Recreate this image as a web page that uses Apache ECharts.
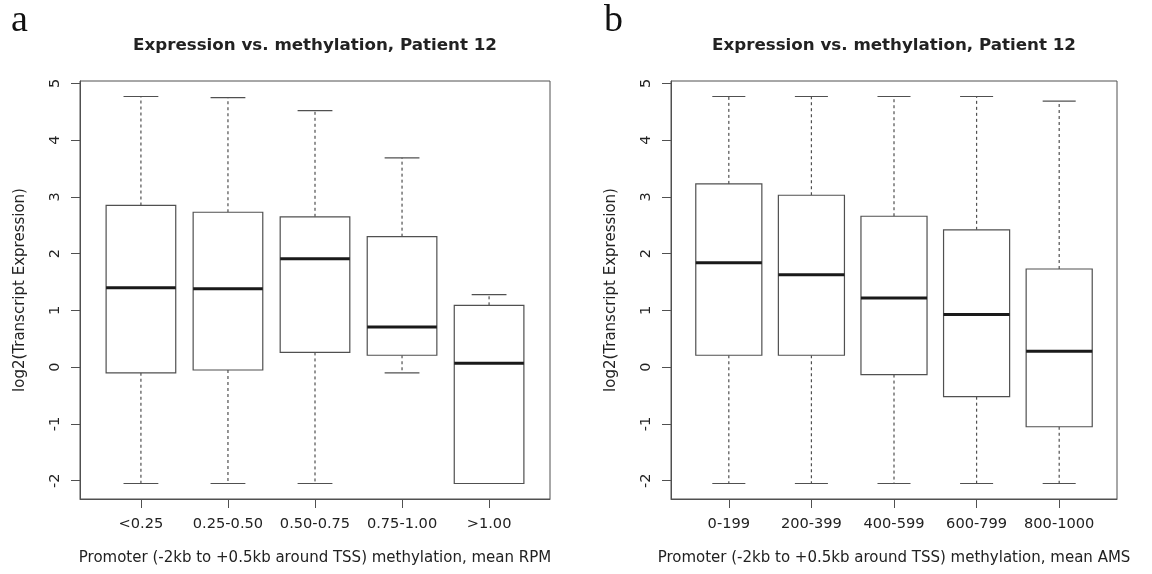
<!DOCTYPE html>
<html>
<head>
<meta charset="utf-8">
<script src="https://cdn.jsdelivr.net/npm/echarts@6/dist/echarts.min.js"></script>
<style>html,body{margin:0;padding:0;background:#fff;}#chart{width:1152px;height:574px;}</style>
</head>
<body>
<div id="chart"></div>
<script>
// Panel a: mean RPM bins
const catsA = ['<0.25', '0.25-0.50', '0.50-0.75', '0.75-1.00', '>1.00'];
const lowA  = [-2.05, -2.05, -2.05, -0.10, -2.05];
const q1A   = [-0.10, -0.05,  0.26,  0.21, -2.05];
const medA  = [ 1.40,  1.38,  1.91,  0.71,  0.07];
const q3A   = [ 2.85,  2.73,  2.65,  2.30,  1.09];
const highA = [ 4.77,  4.75,  4.52,  3.69,  1.28];

// Panel b: mean AMS bins
const catsB = ['0-199', '200-399', '400-599', '600-799', '800-1000'];
const lowB  = [-2.05, -2.05, -2.05, -2.05, -2.05];
const q1B   = [ 0.21,  0.21, -0.13, -0.52, -1.05];
const medB  = [ 1.84,  1.63,  1.22,  0.93,  0.28];
const q3B   = [ 3.23,  3.03,  2.66,  2.42,  1.73];
const highB = [ 4.77,  4.77,  4.77,  4.77,  4.69];

const yTicks = [-2, -1, 0, 1, 2, 3, 4, 5];
const titleText = 'Expression vs. methylation, Patient 12';
const yName = 'log2(Transcript Expression)';
const xNameA = 'Promoter (-2kb to +0.5kb around TSS) methylation, mean RPM';
const xNameB = 'Promoter (-2kb to +0.5kb around TSS) methylation, mean AMS';

const FONT = '"DejaVu Sans", sans-serif';
const LINE = '#505050';

function rows(cats, lo, q1, md, q3, hi) {
  return cats.map((c, i) => [i + 1, lo[i], q1[i], md[i], q3[i], hi[i]]);
}

function renderBox(params, api) {
  const x = api.value(0);
  const lo = api.value(1), q1 = api.value(2), md = api.value(3), q3 = api.value(4), hi = api.value(5);
  const bw = api.size([0.8, 0])[0];
  const cw = bw / 2;
  const cx = api.coord([x, 0])[0];
  const yLo = api.coord([x, lo])[1];
  const yQ1 = api.coord([x, q1])[1];
  const yMd = api.coord([x, md])[1];
  const yQ3 = api.coord([x, q3])[1];
  const yHi = api.coord([x, hi])[1];
  const solid = { stroke: LINE, lineWidth: 1.2, fill: null };
  const dashed = { stroke: LINE, lineWidth: 1.2, lineDash: [3, 3], fill: null };
  return {
    type: 'group',
    children: [
      { type: 'line', shape: { x1: cx, y1: yQ3, x2: cx, y2: yHi }, style: dashed },
      { type: 'line', shape: { x1: cx, y1: yQ1, x2: cx, y2: yLo }, style: dashed },
      { type: 'line', shape: { x1: cx - cw / 2, y1: yHi, x2: cx + cw / 2, y2: yHi }, style: solid },
      { type: 'line', shape: { x1: cx - cw / 2, y1: yLo, x2: cx + cw / 2, y2: yLo }, style: solid },
      { type: 'rect', shape: { x: cx - bw / 2, y: yQ3, width: bw, height: yQ1 - yQ3 }, style: { fill: '#fff', stroke: LINE, lineWidth: 1.2 } },
      { type: 'line', shape: { x1: cx - bw / 2, y1: yMd, x2: cx + bw / 2, y2: yMd }, style: { stroke: '#1a1a1a', lineWidth: 3 } }
    ]
  };
}

function xAxis(idx, cats, name) {
  return {
    type: 'value', gridIndex: idx, min: 0.3, max: 5.7,
    name: name, nameLocation: 'middle', nameGap: 52,
    nameTextStyle: { fontFamily: FONT, fontSize: 15, color: '#222' },
    axisLine: { show: true, onZero: false, lineStyle: { color: LINE, width: 1 } },
    axisTick: { show: true, length: 9, customValues: [1, 2, 3, 4, 5], lineStyle: { color: LINE } },
    axisLabel: { show: true, customValues: [1, 2, 3, 4, 5], margin: 18, fontFamily: FONT, fontSize: 14.6, color: '#222',
      formatter: v => cats[Math.round(v) - 1] },
    splitLine: { show: false }
  };
}

function yAxis(idx) {
  return {
    type: 'value', gridIndex: idx, min: -2.323, max: 5.043,
    name: yName, nameLocation: 'middle', nameGap: 52, nameRotate: 90,
    nameTextStyle: { fontFamily: FONT, fontSize: 15, color: '#222' },
    axisLine: { show: true, onZero: false, lineStyle: { color: LINE, width: 1 } },
    axisTick: { show: true, length: 9, customValues: yTicks, lineStyle: { color: LINE } },
    axisLabel: { show: true, customValues: yTicks, rotate: 90, margin: 17, fontFamily: FONT, fontSize: 14.6, color: '#222' },
    splitLine: { show: false }
  };
}

const chart = echarts.init(document.getElementById('chart'), null, { renderer: 'canvas' });
const gridA = { left: 80, top: 81, width: 470, height: 418 };
const gridB = { left: 671, top: 81, width: 446, height: 418 };
chart.setOption({
  animation: false,
  backgroundColor: '#fff',
  grid: [
    Object.assign({ show: true, borderColor: LINE, borderWidth: 1, backgroundColor: 'transparent' }, gridA),
    Object.assign({ show: true, borderColor: LINE, borderWidth: 1, backgroundColor: 'transparent' }, gridB)
  ],
  xAxis: [xAxis(0, catsA, xNameA), xAxis(1, catsB, xNameB)],
  yAxis: [yAxis(0), yAxis(1)],
  graphic: [
    { type: 'text', x: 11, y: 21, style: { text: 'a', font: '38px "Liberation Serif", serif', fill: '#111', textAlign: 'left', textVerticalAlign: 'middle' } },
    { type: 'text', x: 604, y: 21, style: { text: 'b', font: '38px "Liberation Serif", serif', fill: '#111', textAlign: 'left', textVerticalAlign: 'middle' } },
    { type: 'text', x: gridA.left + gridA.width / 2, y: 46, style: { text: titleText, font: 'bold 16.7px ' + FONT, fill: '#222', textAlign: 'center', textVerticalAlign: 'middle' } },
    { type: 'text', x: gridB.left + gridB.width / 2, y: 46, style: { text: titleText, font: 'bold 16.7px ' + FONT, fill: '#222', textAlign: 'center', textVerticalAlign: 'middle' } }
  ],
  series: [
    { type: 'custom', xAxisIndex: 0, yAxisIndex: 0, renderItem: renderBox,
      encode: { x: 0, y: [1, 2, 3, 4, 5] }, data: rows(catsA, lowA, q1A, medA, q3A, highA) },
    { type: 'custom', xAxisIndex: 1, yAxisIndex: 1, renderItem: renderBox,
      encode: { x: 0, y: [1, 2, 3, 4, 5] }, data: rows(catsB, lowB, q1B, medB, q3B, highB) }
  ]
});
</script>
</body>
</html>
